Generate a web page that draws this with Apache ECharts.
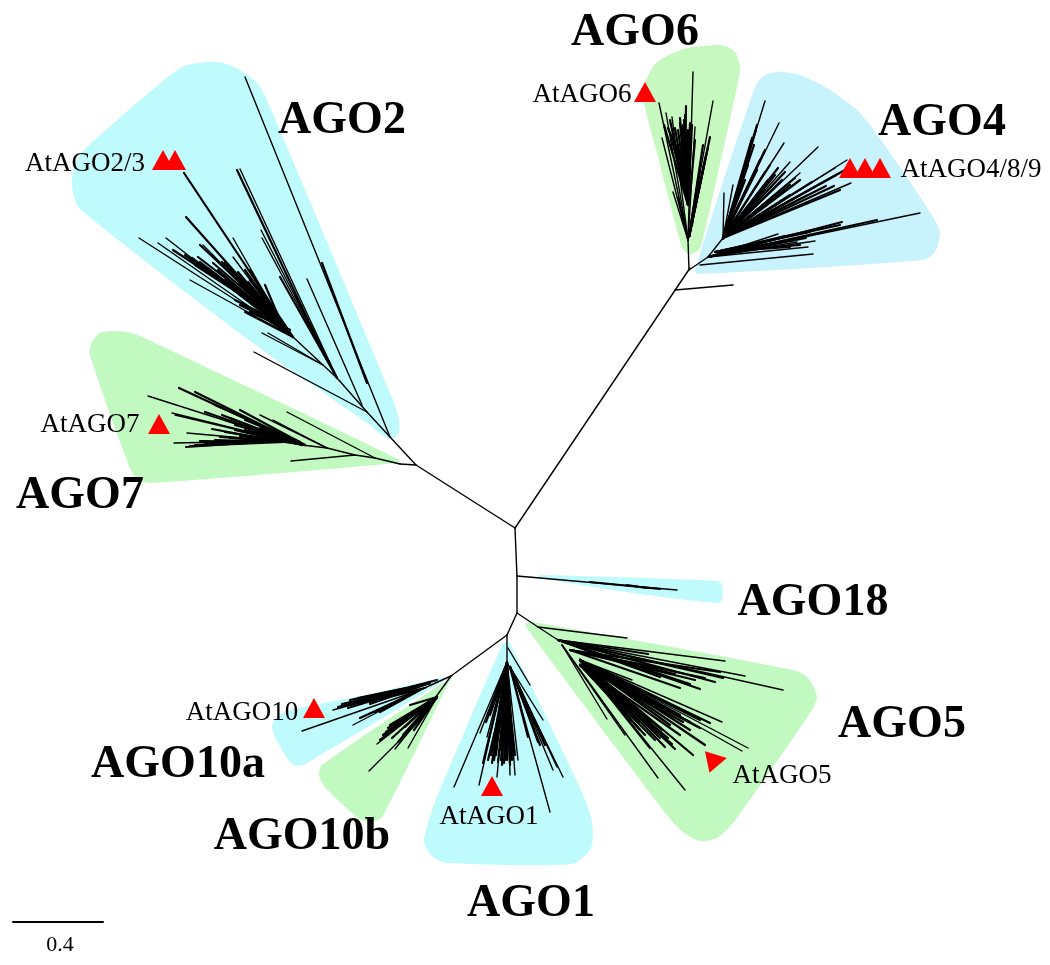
<!DOCTYPE html>
<html><head><meta charset="utf-8">
<style>html,body{margin:0;padding:0;background:#fff}#c{width:1050px;height:965px}</style>
<script src="https://cdn.jsdelivr.net/npm/echarts@6/dist/echarts.min.js"></script>
</head><body><div id="c"></div>
<script>
// Clade shading outlines
const hullAGO2=[[207,62],[180,68],[87,147],[76,162],[72,178],[73,192],[80,209],[253,343],[367,423],[385,437],[394,438],[399,432],[399,420],[393,400],[267,100],[257,83],[240,70],[223,63]];
const hullAGO7=[[113,331],[100,333],[92,342],[90,355],[130,468],[138,480],[152,483],[397,463],[400,460],[140,336],[127,332]];
const hullAGO6=[[717,45],[687,48],[663,58],[652,68],[643,93],[657,153],[682,247],[688,254],[697,252],[702,243],[737,87],[740,67],[735,52],[725,46]];
const hullAGO4=[[780,72],[765,75],[755,87],[695,270],[698,274],[923,260],[935,252],[940,233],[933,217],[893,157],[860,113],[827,88],[800,75]];
const hullAGO18=[[538,575],[717,581],[722,585],[722,600],[717,603],[633,593],[540,578]];
const hullAGO5=[[526,623],[533,622],[793,670],[808,678],[817,697],[810,713],[733,823],[717,838],[700,841],[683,832],[667,815],[526,627]];
const hullAGO1=[[507,642],[510,643],[575,777],[590,813],[593,833],[590,850],[572,864],[447,863],[433,857],[424,842],[428,823],[437,797],[503,643]];
const hullAGO10a=[[445,677],[370,694],[290,710],[278,716],[272,725],[275,737],[290,762],[298,766],[307,763],[445,680]];
const hullAGO10b=[[452,677],[322,765],[319,775],[325,787],[358,818],[370,822],[382,817],[450,680]];
const hulls=[hullAGO2,hullAGO7,hullAGO6,hullAGO4,hullAGO18,hullAGO5,hullAGO1,hullAGO10a,hullAGO10b];
const hullColors=['#bffbfc','#c1f9c1','#c6f8c0','#c8f2fc','#bffbfc','#c1f9c1','#bffbfc','#bffbfc','#c1f9c1'];

// Branch segments as [x1,y1,x2,y2] in image units
const trunkBranches=[[515,528,690,268],[515,528,416,465],[515,528,517,577],[517,577,517,613],[517,613,507,635],[517,613,538,627],[538,627,558,640],
[507,635,451,676],[507,635,507,662],[689,270,688,240],[689,270,708,257],[708,257,723,238],[675,290,733,285],
[416,465,390,437],[390,437,367,412],[367,412,337,378],[337,378,323,365],[323,365,293,337],[293,337,280,320],
[416,465,400,464],[400,464,375,458],[375,458,355,455],[355,455,327,448],[327,448,302,445],[302,445,277,441],[517,576,677,590]];
const ago2Thin=[[390,437,245,77],[362,405,307,279],[367,412,254,352],[337,378,240,169],[337,378,261,230],[337,378,262,238],[323,365,262,333],[323,365,268,333],[293,337,139,238],[293,337,158,243],[293,337,166,238],[293,337,190,280],[293,337,203,245],[280,320,233,238],[280,320,233,257]];
const ago2Thick=[[367,383,322,263],[327,360,237,170],[337,378,280,277],[337,378,295,295],[293,337,184,173],[293,337,186,217],[280,320,198,257],[280,320,213,263],[280,320,173,250],[280,320,185,255],[280,320,195,265],[280,320,205,268],[280,320,215,275],[280,320,225,280],[280,320,240,285],[280,320,250,280],[280,320,258,295],[280,320,222,262],[280,320,245,270],[280,320,200,245],[285,325,235,300],[293,337,245,312],
 [285,328,192,258],[285,328,200,262],[285,328,208,268],[285,328,218,270],[285,328,228,282],[285,328,236,290],[285,328,250,298],[285,328,260,305],[285,328,262,300],[285,328,268,305],[285,328,255,285],[285,328,248,282],[285,328,238,272],[285,328,230,268],[285,328,225,262],[285,328,212,255],[290,330,240,305],[290,330,250,312],[290,330,265,318],[280,320,262,290],[280,320,265,285],[275,315,250,270]];
const ago7Thin=[[375,458,287,412],[355,455,291,461],[327,448,260,415],[327,448,273,420],[302,445,148,396],[302,445,172,413],[302,445,175,415],[277,441,187,433],[277,441,174,443]];
const ago7Thick=[[302,445,179,388],[302,445,195,392],[277,441,186,447],[277,441,212,429],[277,441,220,437],[277,441,195,445],[277,441,205,444],[280,438,205,412],[280,438,225,420],[280,438,235,425],[300,442,215,405],[300,442,245,420],
 [285,442,190,446],[285,442,200,441],[285,442,215,440],[285,442,230,438],[285,442,240,436],[285,442,225,432],[285,442,235,430],[285,440,245,430],[295,443,230,418],[295,443,222,415],[295,443,240,425],[295,443,250,432],[305,445,240,410],[305,445,250,420],[305,445,260,428]];
const ago6Thin=[[688,240,693,72],[688,240,659,103],[688,240,662,138],[688,240,673,192],[688,240,713,101],[688,240,695,127],[688,240,678,197],[688,240,666,113],[688,240,672,117]];
const ago6Thick=[[685,175,680,123],[685,175,683,125],[688,190,690,123],[685,180,686,106],[683,165,672,135],[683,165,668,128],[688,180,684,120],[690,195,695,140],[689,237,710,137],[689,237,708,147],[689,237,703,145],[688,200,678,130],[688,200,688,130],
 [688,205,664,125],[688,205,670,120],[688,205,675,128],[688,205,680,118],[688,205,685,115],[688,205,692,125],[688,205,672,140],[688,205,678,145],[688,205,682,130],[688,205,686,135],[689,237,706,155],[689,237,700,170],[689,237,704,165],[692,225,698,180]];
const ago4Thin=[[700,265,813,254],[708,257,815,241],[708,257,808,247],[708,257,797,242],[708,257,778,234],[708,257,920,213],[723,238,724,193],[723,238,733,185],[723,238,765,101],[723,238,779,123],[723,238,784,143],[723,238,790,162],[723,238,818,147],[723,238,847,160],[723,238,835,168],[723,238,851,183],[723,238,807,195],[723,238,800,173],[723,238,780,203]];
const ago4Thick=[[708,257,842,222],[708,257,877,220],[708,257,806,238],[723,238,757,125],[723,238,752,138],[723,238,840,190],[723,238,845,170],[723,238,790,185],[723,238,770,165],[723,238,775,175],[723,238,760,160],[723,238,765,150],[723,238,800,195],[723,238,785,172],[708,257,785,236],[723,238,750,150],[723,238,812,182],
 [723,238,756,130],[723,238,754,145],[723,238,748,165],[723,238,745,180],[723,238,757,170],[723,238,765,172],[723,238,768,180],[723,238,778,168],[723,238,782,180],[723,238,795,178],[723,238,790,195],[723,238,775,195],[723,238,764,190],[723,238,826,186],[723,238,834,186],[723,238,836,175],[723,238,800,180],[715,252,840,225],[715,252,826,227],[715,252,810,232],[715,252,795,240],[715,252,800,245],[715,252,790,247]];
const ago18Thick=[[627,585,647,588],[590,582,660,589]];
const ago5Thin=[[538,627,627,638],[558,640,783,690],[558,640,725,661],[558,640,745,676],[562,645,607,719],[562,645,625,735],[562,645,658,778],[580,660,685,790],[580,660,748,748],[580,660,742,751],[580,660,722,722],[580,660,632,680]];
const ago5Thick=[[558,640,723,678],[558,640,715,682],[558,640,700,689],[558,640,690,684],[558,640,660,677],[558,640,648,654],[580,660,710,723],[580,660,705,745],[580,660,693,755],[580,660,675,749],[580,660,665,747],[580,660,650,748],[580,660,660,738],[580,660,640,730],[580,660,690,730],[580,660,670,725],[580,660,655,730],[580,660,700,720],
 [580,665,645,715],[580,665,650,722],[580,665,662,730],[580,665,668,738],[580,665,672,744],[580,665,680,735],[580,665,640,722],[580,665,645,735],[580,665,690,722],[580,665,683,722],[580,665,700,728],[580,665,655,740],[580,660,670,712],[580,660,680,715],[570,650,680,688],[570,650,705,678],[570,650,720,672],[570,650,660,668],[570,650,695,680],[570,650,675,674]];
const ago1Thin=[[508,648,530,685],[507,662,454,787],[507,662,479,785],[510,667,550,812],[507,662,563,777],[510,667,553,770],[510,667,557,767],[510,667,543,720],[507,662,480,733],[507,662,487,737],[507,662,518,760],[507,662,515,775],[507,662,510,775],[507,662,497,777]];
const ago1Thick=[[507,662,483,763],[507,662,492,763],[507,662,496,755],[507,662,505,760],[507,662,510,762],[507,662,502,765],[510,667,528,737],[510,667,540,745],[510,667,545,745],[507,662,493,745],[507,662,513,755],
 [507,680,488,760],[507,680,491,755],[507,680,494,760],[507,680,498,762],[507,680,501,760],[507,680,504,763],[507,680,507,760],[507,680,510,765],[507,680,512,760],[507,680,515,755],[507,680,496,745],[507,680,500,750],[510,667,533,717],[510,667,530,715],[510,667,536,725],[513,673,538,742],[507,665,486,722],[507,665,490,715]];
const ago10aThin=[[451,676,420,690],[420,690,302,731],[420,690,353,725],[430,683,333,710]];
const ago10aThick=[[430,683,342,704],[430,683,350,700],[425,684,338,707],[420,690,380,712],[410,690,370,703],[437,680,410,687],[430,683,358,698],[430,683,348,708],[430,683,365,699],[425,688,345,706],[420,690,375,700],[415,692,385,708],[410,695,360,718],[415,692,375,712],[430,683,380,695],[430,683,370,704]];
const ago10bThin=[[451,676,417,723],[417,723,369,771],[437,697,377,744],[437,697,408,748],[437,697,395,749]];
const ago10bThick=[[437,697,383,735],[437,697,398,742],[437,697,410,705],[437,697,388,728],[437,697,400,720],[437,697,392,738],[437,697,386,732],[437,697,395,728],[437,697,405,727],[437,697,380,740],[437,697,390,725],[437,697,403,735],[437,697,414,730]];
const thinBranches=[].concat(trunkBranches,ago2Thin,ago7Thin,ago6Thin,ago4Thin,ago5Thin,ago1Thin,ago10aThin,ago10bThin);
const thickBranches=[].concat(ago2Thick,ago7Thick,ago6Thick,ago4Thick,ago18Thick,ago5Thick,ago1Thick,ago10aThick,ago10bThick);

// Arabidopsis markers
const markerPoints=[[163,160],[175,160],[159,424],[645,92],[850,168],[865,168],[880,168],[492,786],[314,708]];
const rotatedMarkerPoints=[[717,760]];

// Labels
const cladeNames=['AGO2','AGO6','AGO4','AGO7','AGO18','AGO5','AGO10a','AGO10b','AGO1'];
const cladeSpots=[[342,121],[635,33],[942,123],[80,496],[813,603],[902,725],[178,765],[302,837],[531,904]];
const geneNames=['AtAGO2/3','AtAGO6','AtAGO4/8/9','AtAGO7','AtAGO10','AtAGO1','AtAGO5'];
const geneSpots=[[85,164],[582,95],[971,170],[90,425],[242,713],[489,817],[782,776]];
const scaleBar=[[13,922,103,922]];
const scaleName=['0.4'];
const scaleSpot=[[60,945]];

const serif='"Liberation Serif","Times New Roman",serif';
function segSeries(data,w,z){return {type:'custom',coordinateSystem:'cartesian2d',clip:false,z,silent:true,
  encode:{x:[0,2],y:[1,3]},data,
  renderItem(p,api){const a=api.coord([api.value(0),api.value(1)]),b=api.coord([api.value(2),api.value(3)]);
    return {type:'line',shape:{x1:a[0],y1:a[1],x2:b[0],y2:b[1]},style:{stroke:'#000',lineWidth:w,lineCap:'round',fill:null}};}};}
function textSeries(names,spots,size,weight){return {type:'custom',coordinateSystem:'cartesian2d',clip:false,z:6,silent:true,
  encode:{x:0,y:1},data:spots,
  renderItem(p,api){const a=api.coord([api.value(0),api.value(1)]);
    return {type:'text',x:a[0],y:a[1],style:{text:names[p.dataIndex],font:weight+' '+size+'px '+serif,fill:'#000',textAlign:'center',textVerticalAlign:'middle'}};}};}
const chart=echarts.init(document.getElementById('c'),null,{renderer:'canvas'});
chart.setOption({animation:false,backgroundColor:'#fff',
 grid:{left:0,right:0,top:0,bottom:0},
 xAxis:{type:'value',min:0,max:1050,show:false},
 yAxis:{type:'value',min:0,max:965,inverse:true,show:false},
 series:[
  {type:'custom',coordinateSystem:'cartesian2d',clip:false,z:1,silent:true,data:hulls.map((h,i)=>[h[0][0],h[0][1],i]),encode:{x:0,y:1},
   renderItem(p,api){const h=hulls[p.dataIndex];
     return {type:'polygon',shape:{points:h.map(q=>api.coord(q)),smooth:0.25},style:{fill:hullColors[p.dataIndex]}};}},
  segSeries(thinBranches,1.4,3),
  segSeries(thickBranches,2.2,3),
  segSeries(scaleBar,2,3),
  {type:'scatter',symbol:'triangle',symbolSize:[22,20],z:5,silent:true,itemStyle:{color:'#f00',opacity:1},data:markerPoints},
  {type:'scatter',symbol:'triangle',symbolSize:[22,20],symbolRotate:-78,z:5,silent:true,itemStyle:{color:'#f00',opacity:1},data:rotatedMarkerPoints},
  textSeries(cladeNames,cladeSpots,46,'bold'),
  textSeries(geneNames,geneSpots,27,'normal'),
  textSeries(scaleName,scaleSpot,22,'normal')
 ]});
</script></body></html>
